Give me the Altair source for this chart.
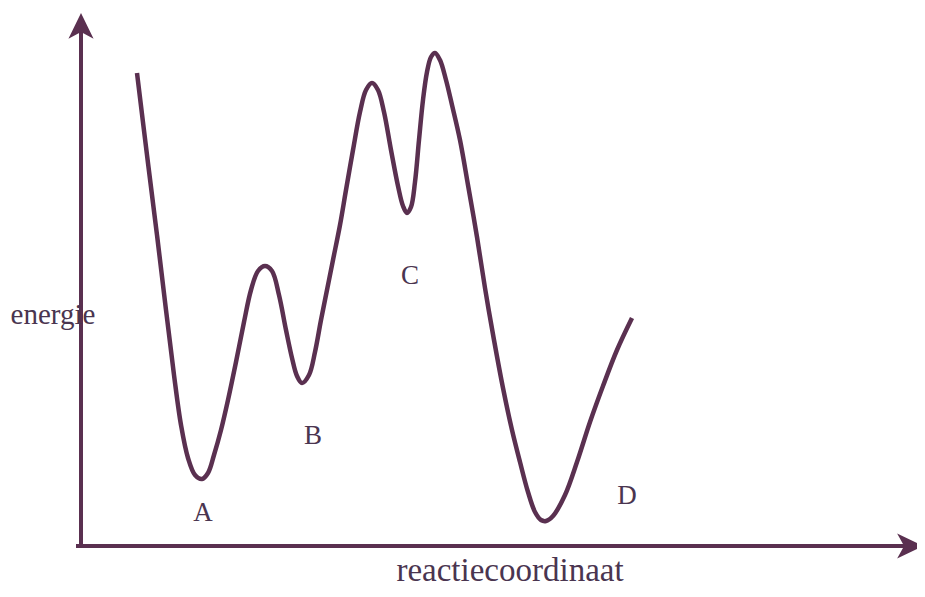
import altair as alt
import pandas as pd

# Curve (reaction coordinate, energy) in picture units
curve_x = [137, 147, 157, 166, 174, 181, 188, 195, 202, 208, 214, 221, 228, 236, 244, 251, 258, 265,
           272, 279, 286, 292, 297, 302, 309, 315, 321, 327, 333, 340, 346, 353, 360, 366, 372,
           378, 384, 391, 398, 403, 407, 411, 415, 419, 423, 427, 431, 435, 440, 446, 452, 460,
           468, 477, 485, 494, 503, 512, 520, 528, 535, 541, 546, 553, 565, 577, 590, 603, 617, 632]
curve_y = [73, 155, 235, 310, 375, 425, 458, 475, 479, 473, 455, 430, 400, 362, 322, 290, 271, 266,
           271, 295, 330, 358, 376, 383, 375, 352, 320, 290, 260, 225, 190, 150, 112, 90, 83,
           90, 112, 150, 186, 206, 213, 207, 182, 140, 100, 72, 57, 53, 60, 80, 105, 140,
           185, 237, 288, 340, 388, 430, 462, 492, 512, 520, 521, 516, 495, 462, 422, 386, 350, 318]

state_labels = ["A", "B", "C", "D"]
state_x = [203, 313, 410, 627]
state_y = [513, 436, 276, 496]

axis_titles = ["energie", "reactiecoordinaat"]

COL = "#5a3050"
TXT = "#4a3550"
SERIF = "Liberation Serif, Times New Roman, DejaVu Serif, serif"

xs = alt.Scale(domain=[8, 917])
ys = alt.Scale(domain=[8, 589], reverse=True)

curve_df = pd.DataFrame({"x": curve_x, "y": curve_y, "o": range(len(curve_x))})
curve = alt.Chart(curve_df).mark_line(color=COL, strokeWidth=4.5, interpolate="catmull-rom").encode(
    x=alt.X("x:Q", scale=xs, axis=None),
    y=alt.Y("y:Q", scale=ys, axis=None),
    order="o:O",
)

# axes drawn as arrows
vaxis = alt.Chart(pd.DataFrame({"x": [81], "y": [548], "y2": [24]})).mark_rule(
    color=COL, strokeWidth=4).encode(
    x=alt.X("x:Q", scale=xs, axis=None),
    y=alt.Y("y:Q", scale=ys, axis=None),
    y2="y2:Q",
)
haxis = alt.Chart(pd.DataFrame({"x": [76], "x2": [912], "y": [546]})).mark_rule(
    color=COL, strokeWidth=4).encode(
    x=alt.X("x:Q", scale=xs, axis=None),
    x2="x2:Q",
    y=alt.Y("y:Q", scale=ys, axis=None),
)
arrow_shape = "M0,-1 L0.9,0.85 L0,0.35 L-0.9,0.85 Z"
head_up = alt.Chart(pd.DataFrame({"x": [81], "y": [27]})).mark_point(
    shape=arrow_shape, filled=True, color=COL, opacity=1, size=780).encode(
    x=alt.X("x:Q", scale=xs, axis=None),
    y=alt.Y("y:Q", scale=ys, axis=None),
)
head_right = alt.Chart(pd.DataFrame({"x": [909], "y": [546]})).mark_point(
    shape=arrow_shape, filled=True, color=COL, opacity=1, size=780, angle=90).encode(
    x=alt.X("x:Q", scale=xs, axis=None),
    y=alt.Y("y:Q", scale=ys, axis=None),
)

labels_df = pd.DataFrame({"t": state_labels, "x": state_x, "y": state_y})
labels = alt.Chart(labels_df).mark_text(
    font=SERIF, fontSize=27, color=TXT, baseline="middle", align="center").encode(
    x=alt.X("x:Q", scale=xs, axis=None),
    y=alt.Y("y:Q", scale=ys, axis=None),
    text="t:N",
)

ylab = alt.Chart(pd.DataFrame({"t": [axis_titles[0]], "x": [53], "y": [324]})).mark_text(
    font=SERIF, fontSize=29, color=TXT, baseline="alphabetic", align="center").encode(
    x=alt.X("x:Q", scale=xs, axis=None),
    y=alt.Y("y:Q", scale=ys, axis=None),
    text="t:N",
)
xlab = alt.Chart(pd.DataFrame({"t": [axis_titles[1]], "x": [510], "y": [581]})).mark_text(
    font=SERIF, fontSize=33, color=TXT, baseline="alphabetic", align="center").encode(
    x=alt.X("x:Q", scale=xs, axis=None),
    y=alt.Y("y:Q", scale=ys, axis=None),
    text="t:N",
)

chart = alt.layer(vaxis, haxis, head_up, head_right, curve, labels, ylab, xlab).properties(
    width=909, height=581, autosize=alt.AutoSizeParams(type="none"), padding=0,
    background="white",
).configure_view(stroke=None)

chart.save("out.html", embed_options={"renderer": "svg", "actions": False})
